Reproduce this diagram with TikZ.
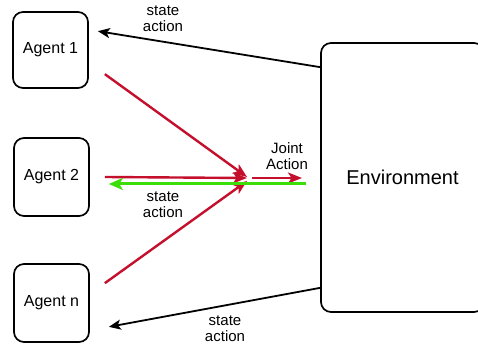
\documentclass[tikz,border=0pt]{standalone}
\usepackage{fontspec}
\setmainfont{Liberation Sans}
\usetikzlibrary{arrows.meta}

\definecolor{jointred}{RGB}{196,16,44}
\definecolor{stategreen}{RGB}{60,222,10}

\tikzset{
    agentbox/.style={draw, line width=1.7pt, rounded corners=10pt, font=\fontsize{16}{18}\selectfont},
    feedback/.style={draw=black, line width=1.8pt, -{Stealth[length=12pt, width=10pt, inset=3pt]}},
    jointact/.style={draw=jointred, line width=2.4pt, -{Stealth[length=14pt, width=11pt, inset=3.5pt]}},
    stateback/.style={draw=stategreen, line width=3pt, -{Stealth[length=14pt, width=12pt, inset=3.5pt]}}
}

\begin{document}
\begin{tikzpicture}[x=1pt, y=1pt]
    \useasboundingbox (0,0) rectangle (478,345);

    \begin{scope}[every node/.style={agentbox}]
        \node[minimum width=75pt, minimum height=76pt] (a1) at (50.5,295) {Agent 1};
        \node[minimum width=75pt, minimum height=78pt] (a2) at (51.5,168) {Agent 2};
        \node[minimum width=75pt, minimum height=78pt] (an) at (51.5,42) {Agent n};
        \node[minimum width=163pt, minimum height=269pt, font=\fontsize{20}{22}\selectfont] (env) at (402.5,167.5) {Environment};
    \end{scope}

    \coordinate (j) at (247,167);

    \begin{scope}[every node/.style={align=center, font=\fontsize{15}{16}\selectfont}]
        \node (s1) at (163,326) {state\\action};
        \node (ja) at (287,189) {Joint\\Action};
        \node (s2) at (163,140) {state\\action};
        \node (sn) at (225,16) {state\\action};
    \end{scope}

    % environment back to the agents
    \draw [feedback] ([yshift=-25pt]env.north west) -- ([xshift=9pt, yshift=-20pt]a1.north east);
    \draw [feedback] ([yshift=25pt]env.south west) -- ([xshift=19pt, yshift=16pt]an.south east);

    % joint action
    \draw [jointact] ([xshift=16pt, yshift=-63pt]a1.north east) -- ([yshift=1pt]j);
    \draw [jointact] ([xshift=15pt]a2.east) -- (j);
    \draw [jointact] ([xshift=15pt, yshift=-20pt]an.north east) -- ([yshift=-3pt]j);
    \draw [jointact] ([xshift=5pt]j) -- ([xshift=55pt]j);

    % state back to agent 2
    \draw [stateback] ([xshift=-14pt, yshift=-6.5pt]env.west) -- ([xshift=19pt, yshift=-7pt]a2.east);
\end{tikzpicture}
\end{document}
